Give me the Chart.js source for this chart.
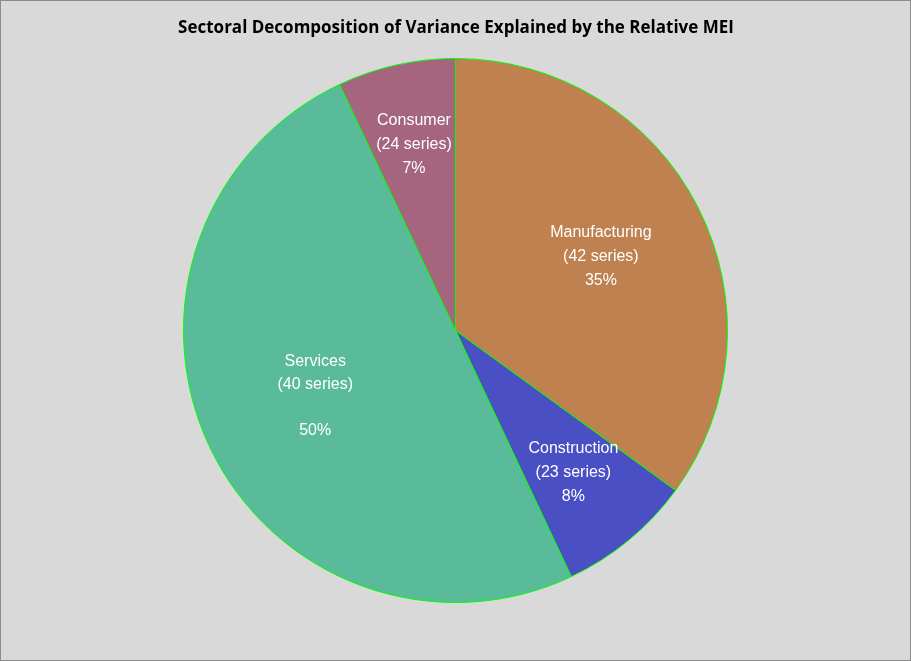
<!DOCTYPE html>
<html>
<head>
<meta charset="utf-8">
<script src="https://cdn.jsdelivr.net/npm/chart.js@4/dist/chart.umd.min.js"></script>
<style>
html,body{margin:0;padding:0;background:#d9d9d9;}
#wrap{width:909px;height:659px;border:1px solid #8c8c8c;position:relative;}
</style>
</head>
<body>
<div id="wrap"><canvas id="c" width="909" height="659"></canvas></div>
<script>
const sectors = ["Manufacturing","Construction","Services","Consumer"];
const seriesCounts = [42,23,40,24];
const shares = [35,8,50,7];
const colors = ["#bf814f","#4b4fc4","#5abb9b","#a5657f"];
// label distance from centre as share of radius, and whether a blank line sits before the %
const labelDist = [0.6,0.68,0.57,0.7];
const blankLine = [false,false,true,false];

const labelPlugin = {
  id:"labels",
  afterDraw(chart){
    const ctx = chart.ctx;
    ctx.save();
    ctx.fillStyle = "#000";
    ctx.font = "bold 17px 'Open Sans', 'Liberation Sans', sans-serif";
    ctx.textAlign = "center";
    ctx.textBaseline = "middle";
    ctx.fillText("Sectoral Decomposition of Variance Explained by the Relative MEI", 455, 27);
    ctx.fillStyle = "#fff";
    ctx.font = "16px 'Liberation Sans', Arial, sans-serif";
    chart.getDatasetMeta(0).data.forEach((arc,i)=>{
      const mid = (arc.startAngle+arc.endAngle)/2;
      const r = arc.outerRadius*labelDist[i];
      const x = arc.x + Math.cos(mid)*r, y = arc.y + Math.sin(mid)*r;
      const lines = [sectors[i], "("+seriesCounts[i]+" series)"];
      if(blankLine[i]) lines.push("");
      lines.push(shares[i]+"%");
      const lh = blankLine[i] ? 23 : 24;
      const top = y - (lines.length-1)*lh/2;
      lines.forEach((t,k)=>ctx.fillText(t, x, top + k*lh));
    });
    ctx.restore();
  }
};

new Chart(document.getElementById("c"),{
  type:"pie",
  data:{labels:sectors,datasets:[{data:shares,backgroundColor:colors,borderColor:"#00ff00",borderWidth:1}]},
  options:{
    responsive:false,animation:false,
    layout:{padding:{top:57,bottom:57}},
    plugins:{legend:{display:false},tooltip:{enabled:false},title:{display:false}}
  },
  plugins:[labelPlugin]
});
</script>
</body>
</html>
